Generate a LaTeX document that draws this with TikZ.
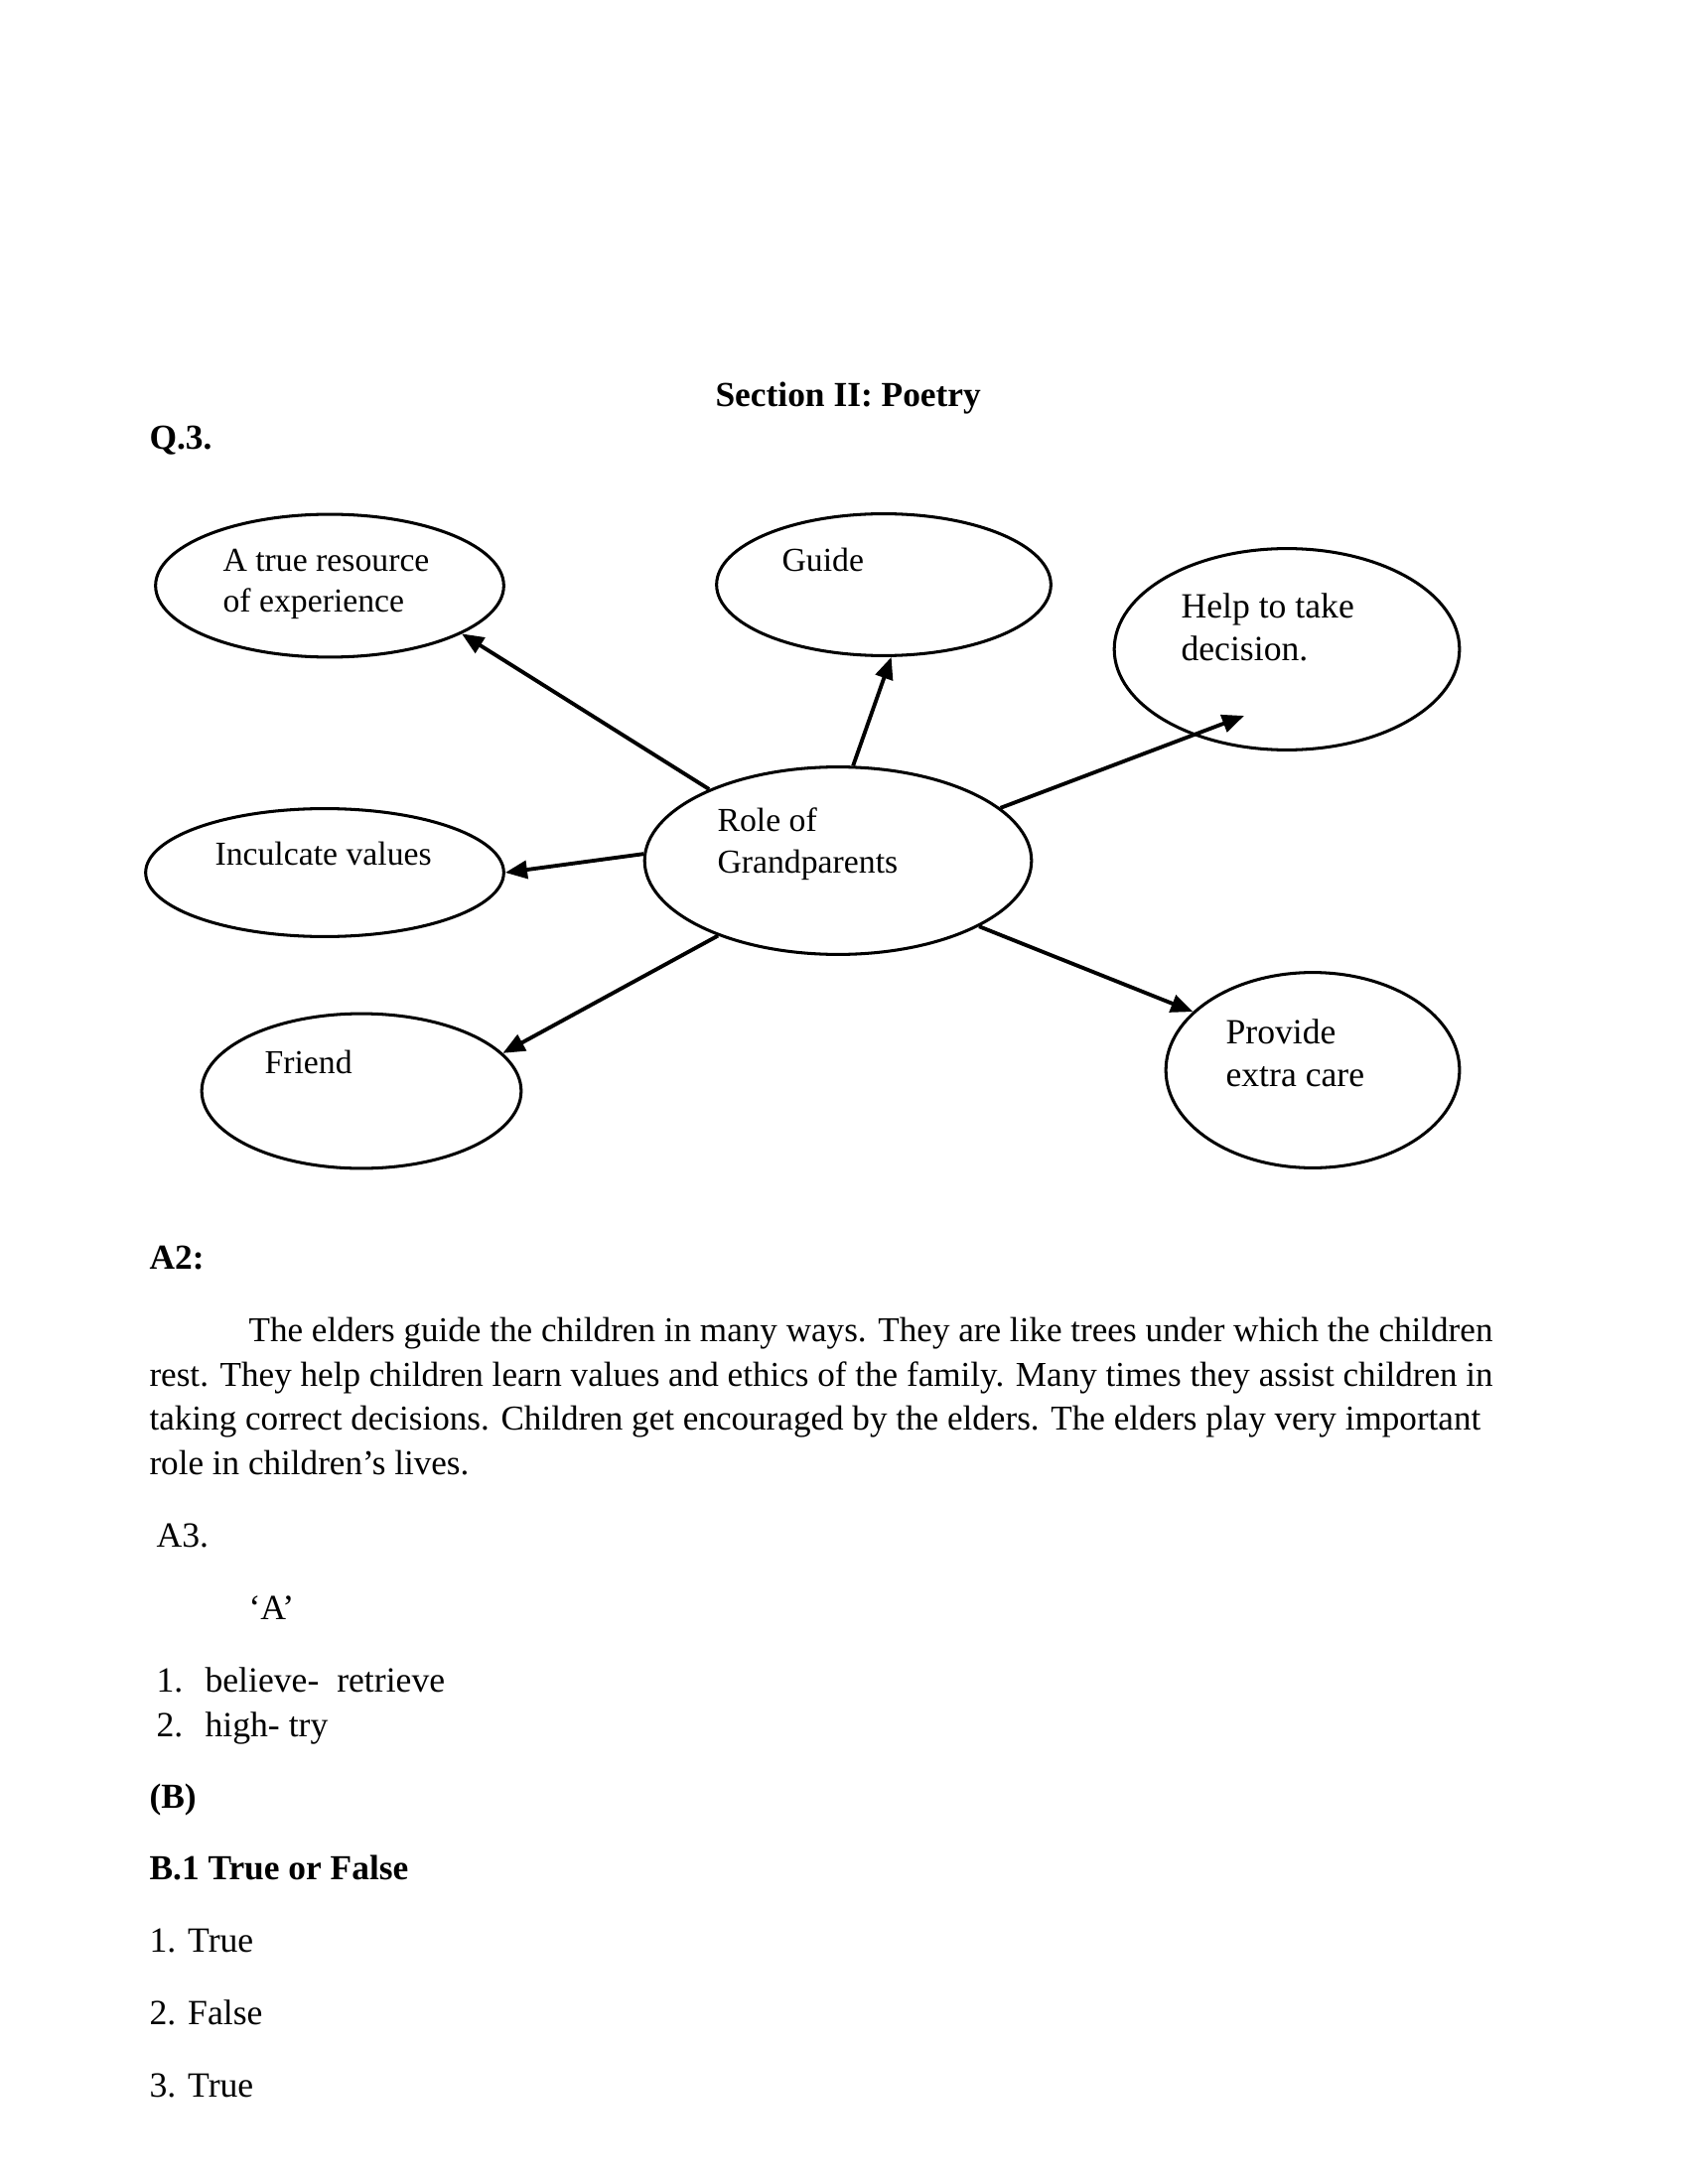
\documentclass[tikz,border=0pt]{standalone}
\usepackage{fontspec}
\setmainfont{Liberation Serif}
\usetikzlibrary{arrows.meta,shapes.geometric}
\tikzset{
  bubble/.style={draw, shape=ellipse, inner sep=0pt, line width=1.1pt},
  txt/.style={anchor=base west, inner sep=0pt, font=\fontsize{12.9}{15}\selectfont},
  ptxt/.style={anchor=base west, inner sep=0pt, font=\fontsize{12.7}{15}\selectfont},
  etxt/.style={anchor=base west, inner sep=0pt, font=\fontsize{12.2}{15}\selectfont},
  btxt/.style={anchor=base west, inner sep=0pt, font=\fontsize{12.8}{15}\selectfont\bfseries},
  conn/.style={line width=1.4pt, -{Triangle[length=8pt,width=6.5pt]}},
}
\begin{document}
\begin{tikzpicture}[x=0.005in, y=-0.005in]
\useasboundingbox (0,0) rectangle (1700,2200);
\fill[white] (0,0) rectangle (1700,2200);

% headings
\node[btxt] (title) at (720,410) {Section II: Poetry};
\node[btxt] (q3) at (150,453) {Q.3.};

% ellipses
\node[bubble, minimum width=1.755in, minimum height=0.72in] (res) at (332,590) {};
\node[bubble, minimum width=1.685in, minimum height=0.715in] (guide) at (890,589) {};
\node[bubble, minimum width=1.74in, minimum height=1.015in] (help) at (1296,654) {};
\node[bubble, minimum width=1.805in, minimum height=0.645in] (inc) at (327,879) {};
\node[bubble, minimum width=1.95in, minimum height=0.945in] (role) at (844,867) {};
\node[bubble, minimum width=1.61in, minimum height=0.78in] (friend) at (364,1099) {};
\node[bubble, minimum width=1.48in, minimum height=0.985in] (care) at (1322,1078) {};

% ellipse texts
\node[etxt] (res1) at (224,576) {A true resource};
\node[etxt] (res2) at (224,617) {of experience};
\node[etxt] (guidet) at (787,576) {Guide};
\node[txt] (help1) at (1189,623) {Help to take};
\node[txt] (help2) at (1189,666) {decision.};
\node[etxt] (inct) at (216,871) {Inculcate values};
\node[etxt] (role1) at (722,837) {Role of};
\node[etxt] (role2) at (722,879) {Grandparents};
\node[etxt] (friendt) at (266,1081) {Friend};
\node[txt] (care1) at (1234,1051) {Provide};
\node[txt] (care2) at (1234,1094) {extra care};

% connectors
\coordinate (helpend) at (1253,721);
\draw[conn] (role.151.8) -- (res.-20.9);
\draw[conn] (role.81.7) -- (guide.276.3);
\draw[conn] (role.18.6) -- (helpend);
\draw[conn] (role.178) -- (inc.0);
\draw[conn] (role.212.7) -- (friend.15.5);
\draw[conn] (role.-25.9) -- (care.154.8);

% answers
\node[btxt] (a2) at (150,1278) {A2:};
\node[ptxt] (p1) at (250,1351) {The elders guide the children in many ways. They are like trees under which the children};
\node[ptxt] (p2) at (150,1396) {rest. They help children learn values and ethics of the family. Many times they assist children in};
\node[ptxt] (p3) at (150,1440) {taking correct decisions. Children get encouraged by the elders. The elders play very important};
\node[ptxt] (p4) at (150,1485) {role in children’s lives.};

\node[txt] (a3) at (157,1558) {A3.};
\node[txt] (qa) at (250,1631) {‘A’};
\node[txt] (n1) at (157,1704) {1.};
\node[txt] (l1) at (206,1704) {believe-\ \ retrieve};
\node[txt] (n2) at (157,1749) {2.};
\node[txt] (l2) at (206,1749) {high- try};

\node[btxt] (b) at (150,1821) {(B)};
\node[btxt] (b1) at (150,1893) {B.1 True or False};
\node[txt] (t1) at (150,1966) {1. True};
\node[txt] (t2) at (150,2039) {2. False};
\node[txt] (t3) at (150,2112) {3. True};
\end{tikzpicture}
\end{document}
